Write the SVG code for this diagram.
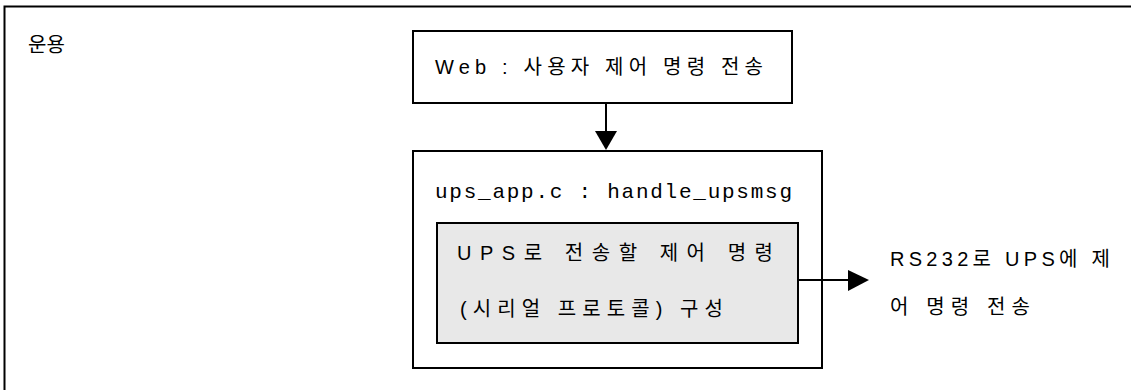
<svg xmlns="http://www.w3.org/2000/svg" width="1131" height="390" viewBox="0 0 1131 390">
<style>
.box{fill:#fff;stroke:#000;stroke-width:2}
.gray{fill:#e8e8e8;stroke:#000;stroke-width:2}
.t{font-family:"Liberation Sans","Noto Sans CJK KR",sans-serif;font-size:20px;fill:#000}
.m{font-family:"Liberation Mono","Noto Sans CJK KR",monospace;font-size:21px;fill:#000}
.ln{stroke:#000;stroke-width:2;fill:none}
</style>
<rect width="1131" height="390" fill="#fff"/>
<g id="frame">
<rect x="4.5" y="6.5" width="1200" height="500" fill="none" stroke="#000" stroke-width="2"/>
<text class="t" x="28" y="52">운용</text>
</g>
<g id="web">
<rect class="box" x="413" y="31" width="379" height="72"/>
<text class="t" x="435" y="74" textLength="328" lengthAdjust="spacing">Web : 사용자 제어 명령 전송</text>
</g>
<g id="ups">
<rect class="box" x="413" y="151" width="409" height="217"/>
<text class="m" x="435" y="198" textLength="357" lengthAdjust="spacing">ups_app.c : handle_upsmsg</text>
</g>
<g id="build">
<rect class="gray" x="437" y="223" width="361" height="120"/>
<text class="t" x="457" y="260" textLength="316" lengthAdjust="spacing">UPS로 전송할 제어 명령</text>
<text class="t" x="460" y="316" textLength="263" lengthAdjust="spacing">(시리얼 프로토콜) 구성</text>
</g>
<g id="rs232">
<text class="t" x="890" y="266" textLength="220" lengthAdjust="spacing">RS232로 UPS에 제</text>
<text class="t" x="890" y="314" textLength="140" lengthAdjust="spacing">어 명령 전송</text>
</g>
<g id="connectors">
<line class="ln" x1="606" y1="103" x2="606" y2="132"/>
<polygon points="595,131 617,131 606,150" fill="#000"/>
<line class="ln" x1="798" y1="280" x2="849" y2="280"/>
<polygon points="848,270 848,291 869,280" fill="#000"/>
</g>
</svg>
